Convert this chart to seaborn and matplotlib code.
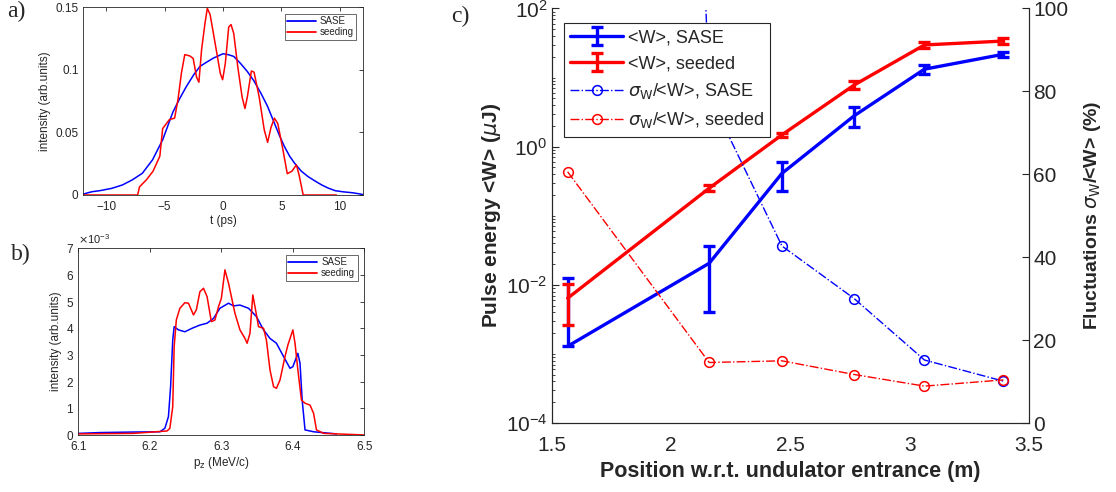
import numpy as np
import pandas as pd
import matplotlib
matplotlib.use("Agg")
import matplotlib.pyplot as plt
import matplotlib.ticker as mticker
import seaborn as sns

# ---------------- data: panel a (temporal profile) ----------------
t_sase = [-12.0, -11.54, -11.2, -10.5, -9.51, -8.6, -7.77, -6.9, -6.03, -5.16, -4.29, -3.7, -3.13,
          -2.5, -1.97, -1.4, -0.81, -0.4, 0.0, 0.45, 0.92, 1.5, 2.08, 2.65, 3.24, 3.8, 4.4,
          4.85, 5.26, 5.7, 6.13, 6.7, 7.29, 7.9, 8.45, 9.0, 9.61, 10.3, 11.06, 11.6, 12.0]
i_sase = [0.0005, 0.0018, 0.0026, 0.0035, 0.0053, 0.0080, 0.0120, 0.0173, 0.028, 0.044, 0.066, 0.077, 0.0866,
          0.096, 0.1026, 0.106, 0.1093, 0.111, 0.1127, 0.112, 0.1106, 0.105, 0.0986, 0.091, 0.0813, 0.071, 0.0573,
          0.047, 0.0386, 0.031, 0.0253, 0.019, 0.0146, 0.011, 0.0080, 0.0055, 0.0034, 0.0025, 0.0018, 0.0010, 0.0003]
t_seed = [-12.0, -7.3, -7.14, -6.56, -5.98, -5.4, -5.16, -4.58, -4.14, -3.85, -3.56, -3.27, -2.84, -2.55,
          -2.26, -2.06, -1.83, -1.54, -1.34, -1.1, -0.67, -0.23, -0.03, 0.2, 0.49, 0.69, 0.92, 1.27,
          1.64, 1.88, 2.08, 2.43, 2.66, 3.1, 3.53, 3.82, 4.11, 4.4, 4.69, 5.13, 5.5, 5.9, 6.28,
          6.51, 6.86, 9.7]
i_seed = [0.0, 0.0, 0.0065, 0.012, 0.019, 0.031, 0.053, 0.0602, 0.0613, 0.076, 0.097, 0.112, 0.111, 0.109,
          0.094, 0.090, 0.116, 0.137, 0.149, 0.144, 0.121, 0.097, 0.092, 0.105, 0.134, 0.136, 0.129, 0.102,
          0.078, 0.069, 0.078, 0.099, 0.098, 0.078, 0.052, 0.042, 0.054, 0.0613, 0.057, 0.036, 0.017, 0.019, 0.024,
          0.016, 0.0, 0.0]

# ---------------- data: panel b (momentum spectrum, units of 1e-3) ----------------
p_sase = [6.1, 6.13, 6.177, 6.214, 6.221, 6.226, 6.229, 6.232, 6.234, 6.24, 6.249, 6.259, 6.27, 6.28,
          6.289, 6.298, 6.31, 6.317, 6.326, 6.338, 6.349, 6.359, 6.368, 6.377, 6.387, 6.396, 6.4,
          6.407, 6.41, 6.413, 6.417, 6.429, 6.457, 6.461]
i_sase_b = [0.06, 0.09, 0.11, 0.12, 0.25, 0.69, 1.8, 3.56, 4.06, 3.94, 3.87, 4.0, 4.12, 4.19,
            4.37, 4.75, 4.94, 4.84, 4.87, 4.75, 4.44, 3.94, 3.62, 3.44, 2.94, 2.5, 2.56,
            3.06, 2.69, 1.31, 0.19, 0.12, 0.05, 0.04]
p_seed = [6.1, 6.177, 6.224, 6.228, 6.232, 6.234, 6.237, 6.242, 6.249, 6.254, 6.261, 6.265, 6.27, 6.275,
          6.28, 6.286, 6.291, 6.296, 6.3, 6.305, 6.31, 6.314, 6.319, 6.326, 6.333, 6.336, 6.34, 6.344,
          6.347, 6.352, 6.359, 6.363, 6.368, 6.373, 6.377, 6.382, 6.389, 6.393, 6.4, 6.403, 6.407, 6.412,
          6.417, 6.424, 6.429, 6.433, 6.443, 6.5]
i_seed_b = [0.04, 0.06, 0.15, 0.25, 1.06, 3.31, 4.31, 4.75, 4.96, 4.94, 4.5, 4.69, 5.37, 5.5,
            5.19, 4.25, 4.31, 4.81, 5.12, 6.19, 5.69, 5.19, 4.56, 3.94, 3.62, 3.44, 3.81, 5.25,
            4.81, 4.06, 4.0, 3.56, 2.44, 1.81, 1.75, 2.06, 2.94, 3.37, 3.94, 3.44, 2.44, 1.31,
            1.19, 1.12, 0.81, 0.19, 0.06, 0.0]

# ---------------- data: panel c ----------------
position = [1.567, 2.16, 2.465, 2.768, 3.062, 3.393]
w_sase = [0.00129, 0.0205, 0.41, 2.8, 13.2, 21.7]
w_sase_err = [0.0112, 0.0165, 0.18, 0.9, 2.1, 2.0]
w_seed = [0.0064, 0.25, 1.48, 7.8, 29.6, 33.7]
w_seed_err = [0.0038, 0.025, 0.12, 1.0, 2.7, 3.2]
fluct_sase = [1000.0, 79.0, 42.7, 30.0, 15.2, 10.1]
fluct_seed = [60.6, 14.6, 15.0, 11.7, 8.9, 10.4]

labels_ab = ["SASE", "seeding"]
labels_c = ["<W>, SASE", "<W>, seeded", r"$\sigma_\mathrm{W}$/<W>, SASE", r"$\sigma_\mathrm{W}$/<W>, seeded"]

# ---------------- style ----------------
sns.set_style("white")
plt.rcParams['font.family'] = ['Liberation Sans', 'DejaVu Sans']
plt.rcParams['mathtext.fontset'] = 'dejavusans'
AX = (0.15, 0.15, 0.15)
palette = {"SASE": "blue", "seeding": "red"}

fig = plt.figure(figsize=(11.16, 4.92), dpi=100)
ax_a = fig.add_axes([0.0741, 0.6037, 0.2514, 0.382])
ax_b = fig.add_axes([0.0702, 0.1159, 0.2563, 0.3795])
ax_c = fig.add_axes([0.4943, 0.1402, 0.4277, 0.8427])


def style_small(ax):
    for s in ax.spines.values():
        s.set_color(AX)
        s.set_linewidth(0.6)
        s.set_visible(True)
    ax.tick_params(direction="in", top=True, right=True, length=3, width=0.6,
                   color=AX, labelcolor=AX, labelsize=8.5, pad=3)
    ax.tick_params(axis="x", pad=4)


def small_legend(ax):
    lg = ax.legend(loc="upper right", fontsize=7, frameon=True, fancybox=False,
                   handlelength=3.0, borderpad=0.25, labelspacing=0.1, handletextpad=0.4,
                   borderaxespad=0.7)
    lg.get_frame().set_edgecolor(AX)
    lg.get_frame().set_linewidth(0.6)
    for ln in lg.get_lines():
        ln.set_linewidth(1.3)
    return lg


# panel a
df_a = pd.concat([
    pd.DataFrame({"t": t_sase, "I": i_sase, "kind": labels_ab[0]}),
    pd.DataFrame({"t": t_seed, "I": i_seed, "kind": labels_ab[1]}),
])
sns.lineplot(data=df_a, x="t", y="I", hue="kind", palette=palette, sort=False,
             estimator=None, linewidth=1.1, ax=ax_a)
ax_a.set_xlim(-12, 12)
ax_a.set_ylim(0, 0.15)
ax_a.set_xticks([-10, -5, 0, 5, 10])
ax_a.set_yticks([0, 0.05, 0.1, 0.15])
ax_a.yaxis.set_major_formatter(mticker.FuncFormatter(lambda v, p: f"{v:g}"))
ax_a.set_xlabel("t (ps)", fontsize=8.5, color=AX, labelpad=2)
ax_a.set_ylabel("intensity (arb.units)", fontsize=8.5, color=AX, labelpad=3)
style_small(ax_a)
small_legend(ax_a)

# panel b
df_b = pd.concat([
    pd.DataFrame({"p": p_sase, "I": np.array(i_sase_b) * 1e-3, "kind": labels_ab[0]}),
    pd.DataFrame({"p": p_seed, "I": np.array(i_seed_b) * 1e-3, "kind": labels_ab[1]}),
])
sns.lineplot(data=df_b, x="p", y="I", hue="kind", palette=palette, sort=False,
             estimator=None, linewidth=1.1, ax=ax_b)
ax_b.set_xlim(6.1, 6.5)
ax_b.set_ylim(0, 7e-3)
ax_b.set_xticks([6.1, 6.2, 6.3, 6.4, 6.5])
ax_b.set_yticks(np.arange(0, 8) * 1e-3)
fmt = mticker.ScalarFormatter(useMathText=True)
fmt.set_powerlimits((-2, 2))
ax_b.yaxis.set_major_formatter(fmt)
ax_b.set_xlabel(r"p$_\mathrm{z}$ (MeV/c)", fontsize=8.5, color=AX, labelpad=2)
ax_b.set_ylabel("intensity (arb.units)", fontsize=8.5, color=AX, labelpad=3)
style_small(ax_b)
ax_b.yaxis.get_offset_text().set_fontsize(8)
ax_b.yaxis.get_offset_text().set_color(AX)
small_legend(ax_b)

# panel c
pos = np.array(position)
ws, wse = np.array(w_sase), np.array(w_sase_err)
wd, wde = np.array(w_seed), np.array(w_seed_err)
low_s = np.where(wse >= ws, 0.0, wse)
low_d = np.where(wde >= wd, 0.0, wde)
h1 = ax_c.errorbar(pos, ws, yerr=[low_s, wse], color="blue", lw=2.4, elinewidth=2.4,
                   capsize=4.5, capthick=2.4, label=labels_c[0])
h2 = ax_c.errorbar(pos, wd, yerr=[low_d, wde], color="red", lw=2.4, elinewidth=2.4,
                   capsize=4.5, capthick=2.4, label=labels_c[1])
ax_c.set_yscale("log")
ax_c.set_xlim(1.5, 3.5)
ax_c.set_ylim(1e-4, 1e2)
ax_c.yaxis.set_major_locator(mticker.FixedLocator([1e-4, 1e-2, 1e0, 1e2]))
ax_c.yaxis.set_major_formatter(mticker.LogFormatterSciNotation())
ax_c.yaxis.set_minor_locator(mticker.LogLocator(base=10, subs=np.arange(1, 10), numticks=50))
ax_c.yaxis.set_minor_formatter(mticker.NullFormatter())
ax_c.set_xticks([1.5, 2, 2.5, 3, 3.5])
ax_c.xaxis.set_major_formatter(mticker.FuncFormatter(lambda v, p: f"{v:g}"))
ax_c.set_xlabel("Position w.r.t. undulator entrance (m)", fontsize=15.5, fontweight="bold",
                color=AX, labelpad=5)
ax_c.set_ylabel(r"Pulse energy <W> ($\mu$J)", fontsize=15, fontweight="bold", color=AX, labelpad=2)
ax_c.tick_params(axis="both", which="major", direction="in", length=5, width=0.8,
                 labelsize=15, color=AX, labelcolor=AX, top=False, right=False)
ax_c.tick_params(axis="x", which="major", pad=9)
ax_c.tick_params(axis="y", which="major", pad=3)
ax_c.tick_params(axis="y", which="minor", direction="in", length=2.5, width=0.6, color=AX)
for name, s in ax_c.spines.items():
    s.set_color(AX)
    s.set_linewidth(0.8)
ax_c.spines["top"].set_visible(False)

ax2 = ax_c.twinx()
df_fs = pd.DataFrame({"pos": position, "f": fluct_sase})
df_fd = pd.DataFrame({"pos": position, "f": fluct_seed})
sns.lineplot(data=df_fs, x="pos", y="f", color="blue", linestyle="-.", marker="o",
             markersize=7, markerfacecolor="none", markeredgecolor="blue", markeredgewidth=1.1,
             linewidth=1.0, ax=ax2, estimator=None, sort=False)
sns.lineplot(data=df_fd, x="pos", y="f", color="red", linestyle="-.", marker="o",
             markersize=7, markerfacecolor="none", markeredgecolor="red", markeredgewidth=1.1,
             linewidth=1.0, ax=ax2, estimator=None, sort=False)
ax2.set_ylim(0, 100)
ax2.set_yticks([0, 20, 40, 60, 80, 100])
ax2.set_ylabel(r"Fluctuations $\sigma_\mathrm{W}$/<W> (%)", fontsize=14, fontweight="bold",
               color=AX, labelpad=10)
ax2.tick_params(axis="y", direction="in", length=5, width=0.8, labelsize=15,
                color=AX, labelcolor=AX, pad=3)
for s in ax2.spines.values():
    s.set_color(AX)
    s.set_linewidth(0.8)
ax2.spines["top"].set_visible(False)
ax2.set_xlim(1.5, 3.5)
ax2.set_xlabel("")

lines2 = ax2.get_lines()
leg = ax2.legend(handles=[h1, h2, lines2[0], lines2[1]], labels=labels_c,
                 loc="upper left", bbox_to_anchor=(0.026, 0.965), borderaxespad=0,
                 fontsize=13, frameon=True, fancybox=False, handlelength=2.9,
                 borderpad=0.35, labelspacing=0.5, handletextpad=0.3, framealpha=1)
leg.get_frame().set_edgecolor(AX)
leg.get_frame().set_linewidth(0.8)

# panel letters
fig.text(0.006, 0.976, "a)", fontsize=17, family="Liberation Serif", va="center", ha="left")
fig.text(0.010, 0.482, "b)", fontsize=17, family="Liberation Serif", va="center", ha="left")
fig.text(0.404, 0.967, "c)", fontsize=17, family="Liberation Serif", va="center", ha="left")

fig.savefig("out.png", dpi=100)
